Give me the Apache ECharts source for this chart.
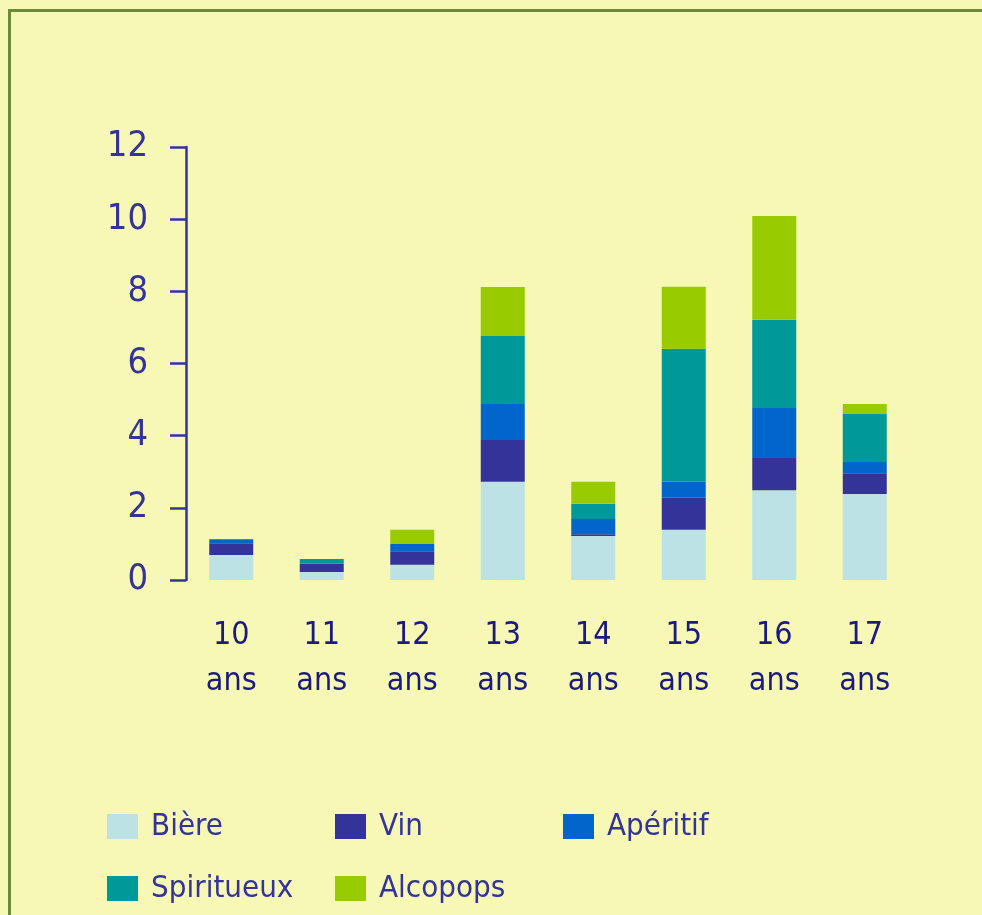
<!DOCTYPE html>
<html>
<head>
<meta charset="utf-8">
<script src="https://cdn.jsdelivr.net/npm/echarts@6/dist/echarts.min.js"></script>
<style>
html,body{margin:0;padding:0;background:#f7f8b5;}
#c{width:982px;height:915px;}
</style>
</head>
<body>
<div id="c"></div>
<script>
const categories = ['10\nans','11\nans','12\nans','13\nans','14\nans','15\nans','16\nans','17\nans'];
const biere      = [0.69, 0.22, 0.42, 2.72, 1.22, 1.39, 2.49, 2.38];
const vin        = [0.33, 0.23, 0.38, 1.16, 0.05, 0.89, 0.89, 0.58];
const aperitif   = [0.11, 0.00, 0.20, 1.00, 0.42, 0.44, 1.39, 0.31];
const spiritueux = [0.00, 0.13, 0.00, 1.88, 0.42, 3.69, 2.44, 1.33];
const alcopops   = [0.00, 0.00, 0.39, 1.36, 0.61, 1.72, 2.88, 0.28];
const yTicks = [0, 2, 4, 6, 8, 10, 12];

const seriesDefs = [
  {name:'Bière', data:biere, color:'#bce2e6'},
  {name:'Vin', data:vin, color:'#333399'},
  {name:'Apéritif', data:aperitif, color:'#0066cc'},
  {name:'Spiritueux', data:spiritueux, color:'#009999'},
  {name:'Alcopops', data:alcopops, color:'#99cc00'}
];
const legendPos = [[107,811],[335,811],[563,811],[107,873],[335,873]];
const font = '"DejaVu Sans Condensed", "Liberation Sans Narrow", sans-serif';

const chart = echarts.init(document.getElementById('c'));
chart.setOption({
  backgroundColor:'#f7f8b5',
  animation:false,
  graphic:[{
    type:'rect', silent:true,
    shape:{x:9.5, y:10.5, width:1100, height:1100},
    style:{fill:'none', stroke:'#6b8a3a', lineWidth:3}
  }],
  grid:{left:186, right:72, top:147, bottom:335},
  legend: seriesDefs.map((s,i)=>({
    data:[s.name], left:legendPos[i][0], top:legendPos[i][1],
    itemWidth:31, itemHeight:25, icon:'rect', padding:0,
    textStyle:{fontFamily:font, fontSize:31, color:'#333399', padding:[0,0,0,8]}
  })),
  xAxis:{
    type:'category', data:categories,
    axisLine:{show:false}, axisTick:{show:false},
    axisLabel:{fontFamily:font, fontSize:32, color:'#1a1a80', lineHeight:46, margin:33, interval:0}
  },
  yAxis:{
    type:'value', min:0, max:12, interval:2,
    axisLine:{show:true, lineStyle:{color:'#333399', width:2.5}},
    axisTick:{show:true, length:16, lineStyle:{color:'#333399', width:2.5}},
    splitLine:{show:false},
    axisLabel:{fontFamily:font, fontSize:36, color:'#333399', margin:38,
      formatter:v=>yTicks.includes(v)?String(v):''}
  },
  series: seriesDefs.map(s=>({
    name:s.name, type:'bar', stack:'total', data:s.data, barWidth:44,
    itemStyle:{color:s.color}
  }))
});
</script>
</body>
</html>
